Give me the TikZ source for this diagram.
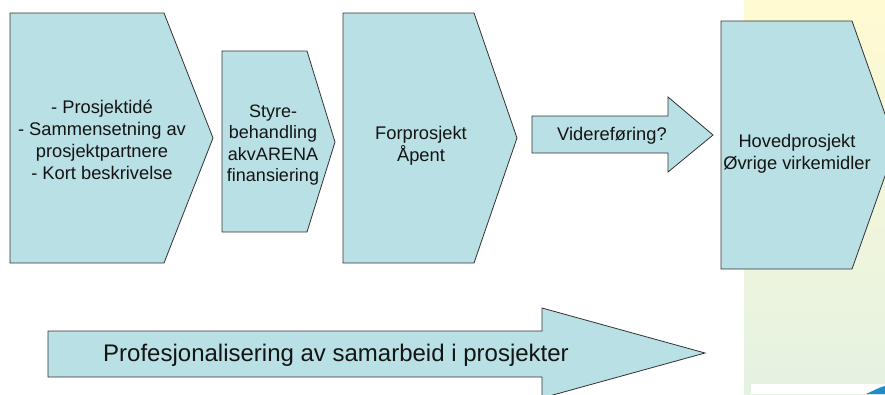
\documentclass[tikz,border=0pt]{standalone}
\usepackage{fontspec}
\setmainfont{Liberation Sans}
\definecolor{boxfill}{RGB}{185,224,228}
\definecolor{boxline}{RGB}{50,50,50}
\definecolor{txt}{RGB}{20,20,20}
\definecolor{bgtop}{RGB}{255,250,210}
\definecolor{bgbot}{RGB}{228,242,226}
\definecolor{swoosh}{RGB}{30,140,200}
\tikzset{
  stage/.style={fill=boxfill,draw=boxline,line width=0.8pt,line join=miter},
  lbl/.style={text=txt,align=center,inner sep=0pt,font=\fontsize{18.3}{22}\selectfont},
}
\begin{document}
\begin{tikzpicture}[x=1pt,y=-1pt]
\useasboundingbox (0,0) rectangle (885,394);
% slide background on the right
\shade[top color=bgtop,bottom color=bgbot] (744,0) rectangle (885,394);
\fill[white] (751,384) rectangle (885,394);
\fill[swoosh] (866,394) .. controls (875,390) and (880,387) .. (885,386) -- (885,394) -- cycle;
\begin{scope}
\clip (0,0) rectangle (885,394);
% stages
\draw[stage] (10,13) -- (164,13) -- (213,138) -- (164,263) -- (10,263) -- cycle;
\draw[stage] (222,51) -- (307,51) -- (335,142) -- (307,232) -- (222,232) -- cycle;
\draw[stage] (343,13) -- (474,13) -- (517,138) -- (474,263) -- (343,263) -- cycle;
\draw[stage] (532,116) -- (668,116) -- (668,97) -- (713,135) -- (668,172) -- (668,153) -- (532,153) -- cycle;
\draw[stage] (721,21) -- (852,21) -- (896,145) -- (852,269) -- (721,269) -- cycle;
\draw[stage] (48,331) -- (542,331) -- (542,308) -- (705,353) -- (542,398) -- (542,377) -- (48,377) -- cycle;
\end{scope}
% labels
\node[lbl] (idea) at (102,140) {- Prosjektidé\\- Sammensetning av\\prosjektpartnere\\- Kort beskrivelse};
\node[lbl,font=\fontsize{18}{21.5}\selectfont] (board) at (273,145) {Styre-\\behandling\\akvARENA\\finansiering};
\node[lbl] (pre) at (421,146) {Forprosjekt\\Åpent};
\node[lbl] (cont) at (612,136) {Videreføring?};
\node[lbl] (main) at (797,154) {Hovedprosjekt\\Øvrige virkemidler};
\node[lbl,font=\fontsize{24}{26}\selectfont] (prof) at (336,355) {Profesjonalisering av samarbeid i prosjekter};
\end{tikzpicture}
\end{document}
